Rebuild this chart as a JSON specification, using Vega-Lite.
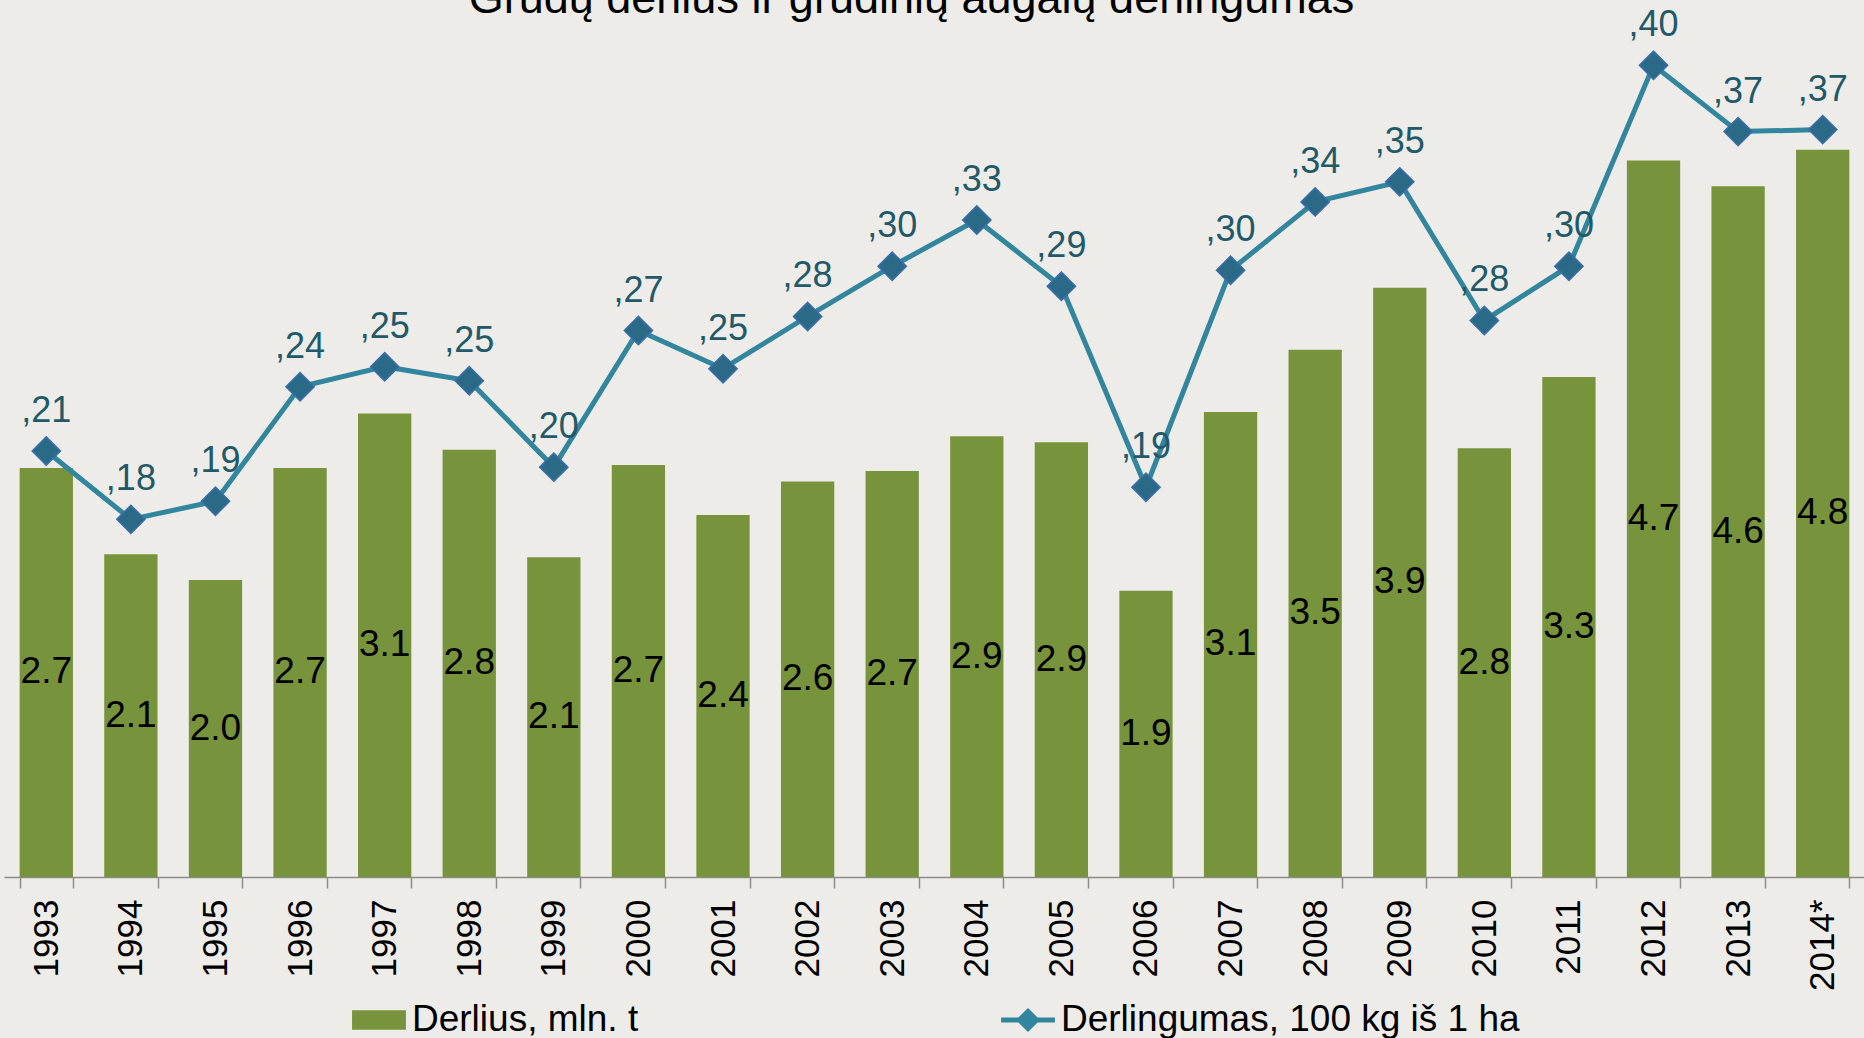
{
  "$schema": "https://vega.github.io/schema/vega-lite/v6.json",
  "width": 1861,
  "height": 877,
  "autosize": {"type": "none"},
  "padding": {"left": 4, "top": 0, "right": 0, "bottom": 161},
  "background": "#EEECE9",
  "title": {
    "text": "Grūdų derlius ir grūdinių augalų derlingumas",
    "fontSize": 45,
    "font": "Liberation Sans",
    "fontWeight": "normal",
    "color": "#000000",
    "anchor": "middle",
    "frame": "group",
    "baseline": "alphabetic",
    "offset": -58,
    "dx": -23
  },
  "config": {"view": {"stroke": null}, "font": "Liberation Sans"},
  "data": {
    "values": [
      {"year": "1993", "derlius": 2.70, "derlingumas": 0.212},
      {"year": "1994", "derlius": 2.13, "derlingumas": 0.178},
      {"year": "1995", "derlius": 1.96, "derlingumas": 0.187},
      {"year": "1996", "derlius": 2.70, "derlingumas": 0.244},
      {"year": "1997", "derlius": 3.06, "derlingumas": 0.254},
      {"year": "1998", "derlius": 2.82, "derlingumas": 0.247},
      {"year": "1999", "derlius": 2.11, "derlingumas": 0.204},
      {"year": "2000", "derlius": 2.72, "derlingumas": 0.272},
      {"year": "2001", "derlius": 2.39, "derlingumas": 0.253},
      {"year": "2002", "derlius": 2.61, "derlingumas": 0.279},
      {"year": "2003", "derlius": 2.68, "derlingumas": 0.304},
      {"year": "2004", "derlius": 2.91, "derlingumas": 0.327},
      {"year": "2005", "derlius": 2.87, "derlingumas": 0.294},
      {"year": "2006", "derlius": 1.89, "derlingumas": 0.194},
      {"year": "2007", "derlius": 3.07, "derlingumas": 0.302},
      {"year": "2008", "derlius": 3.48, "derlingumas": 0.336},
      {"year": "2009", "derlius": 3.89, "derlingumas": 0.346},
      {"year": "2010", "derlius": 2.83, "derlingumas": 0.277},
      {"year": "2011", "derlius": 3.30, "derlingumas": 0.304},
      {"year": "2012", "derlius": 4.73, "derlingumas": 0.404},
      {"year": "2013", "derlius": 4.56, "derlingumas": 0.371},
      {"year": "2014*", "derlius": 4.80, "derlingumas": 0.372}
    ]
  },
  "encoding": {
    "x": {
      "field": "year",
      "type": "nominal",
      "sort": null,
      "scale": {"paddingInner": 0.37, "paddingOuter": 0.185},
      "axis": {
        "title": null,
        "labelAngle": -90,
        "labelAlign": "right",
        "labelBaseline": "middle",
        "labelFontSize": 35,
        "labelFont": "Liberation Sans",
        "labelColor": "#000000",
        "labelPadding": 11,
        "tickSize": 11,
        "tickColor": "#8C8C8C",
        "tickWidth": 1.5,
        "domainColor": "#8C8C8C",
        "domainWidth": 1.5,
        "tickBand": "extent",
        "labelOverlap": false,
        "labelLimit": 0
      }
    }
  },
  "layer": [
    {
      "mark": {"type": "bar"},
      "encoding": {
        "y": {"field": "derlius", "type": "quantitative", "scale": {"domain": [0, 5.789]}, "axis": null},
        "color": {
          "datum": "Derlius, mln. t",
          "type": "nominal",
          "scale": {"domain": ["Derlius, mln. t", "Derlingumas, 100 kg iš 1 ha"], "range": ["#77933C", "#31859C"]},
          "legend": {
            "orient": "none",
            "legendX": 348,
            "legendY": 993,
            "direction": "horizontal",
            "columns": 2,
            "columnPadding": 362,
            "title": null,
            "labelFontSize": 37,
            "labelFont": "Liberation Sans",
            "labelColor": "#000000",
            "labelOffset": 6,
            "labelLimit": 0,
            "symbolSize": 2900,
            "padding": 0,
            "symbolStrokeWidth": 0,
            "symbolOpacity": 1,
            "encode": {
              "symbols": {
                "update": {
                  "shape": {"signal": "datum.value === 'Derlius, mln. t' ? 'M-1,-0.36L1,-0.36L1,0.36L-1,0.36Z' : 'M-1,-0.09L1,-0.09L1,0.09L-1,0.09Z M0,-0.45L0.45,0L0,0.45L-0.45,0Z'"},
                  "fill": {"scale": "color", "field": "value"},
                  "stroke": {"value": "transparent"},
                  "opacity": {"value": 1}
                }
              }
            }
          }
        }
      }
    },
    {
      "mark": {"type": "text", "fontSize": 37, "baseline": "middle", "color": "#000000", "font": "Liberation Sans"},
      "encoding": {
        "y": {"field": "derlius", "type": "quantitative", "scale": {"domain": [0, 11.578]}, "axis": null},
        "text": {"field": "derlius", "type": "quantitative", "format": ".1f"}
      }
    },
    {
      "mark": {"type": "line", "strokeWidth": 5},
      "encoding": {
        "y": {"field": "derlingumas", "type": "quantitative", "scale": {"domain": [0, 0.4365]}, "axis": null},
        "color": {
          "datum": "Derlingumas, 100 kg iš 1 ha",
          "type": "nominal",
          "scale": {"domain": ["Derlius, mln. t", "Derlingumas, 100 kg iš 1 ha"], "range": ["#77933C", "#31859C"]}
        }
      }
    },
    {
      "mark": {"type": "point", "shape": "diamond", "size": 800, "filled": true, "fill": "#2B6A87", "stroke": "#3A6DAA", "strokeWidth": 1.5, "opacity": 1},
      "encoding": {
        "y": {"field": "derlingumas", "type": "quantitative", "scale": {"domain": [0, 0.4365]}, "axis": null}
      }
    },
    {
      "mark": {
        "type": "text",
        "fontSize": 36,
        "color": "#215968",
        "baseline": "alphabetic",
        "dy": -29,
        "font": "Liberation Sans",
        "text": {"expr": "replace(format(datum.derlingumas, '.2f'), '0.', ',')"}
      },
      "encoding": {
        "y": {"field": "derlingumas", "type": "quantitative", "scale": {"domain": [0, 0.4365]}, "axis": null}
      }
    }
  ],
  "resolve": {"scale": {"y": "independent"}}
}
